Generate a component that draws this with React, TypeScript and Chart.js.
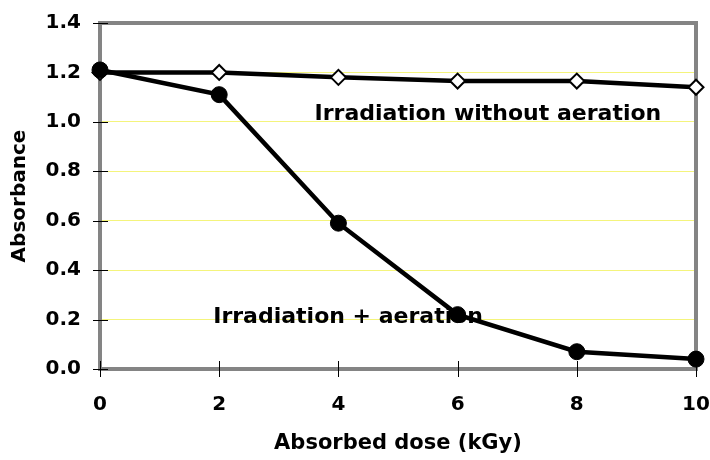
import React, { useEffect, useRef } from "react";
import { Chart, registerables } from "chart.js";

Chart.register(...registerables);

const doses = [0, 2, 4, 6, 8, 10];
const withoutAeration = [1.2, 1.2, 1.18, 1.165, 1.165, 1.14];
const withAeration = [1.21, 1.11, 0.59, 0.22, 0.07, 0.04];
const yTicks = [0, 0.2, 0.4, 0.6, 0.8, 1.0, 1.2, 1.4];
const xTicks = [0, 2, 4, 6, 8, 10];
const labelWithout = "Irradiation without aeration";
const labelWith = "Irradiation + aeration";
const xTitle = "Absorbed dose (kGy)";
const yTitle = "Absorbance";

const FONT = "'DejaVu Sans', sans-serif";

const framePlugin = {
  id: "frame",
  beforeDatasetsDraw(chart: any) {
    const { ctx, chartArea: a, scales } = chart;
    ctx.save();
    ctx.strokeStyle = "#848484";
    ctx.lineWidth = 4;
    ctx.strokeRect(a.left, a.top, a.right - a.left, a.bottom - a.top);
    ctx.strokeStyle = "#000";
    ctx.lineWidth = 1;
    ctx.beginPath();
    for (const v of yTicks) {
      const y = Math.round(scales.y.getPixelForValue(v)) + 0.5;
      ctx.moveTo(a.left - 7, y);
      ctx.lineTo(a.left + 8, y);
    }
    for (const v of xTicks) {
      const x = Math.round(scales.x.getPixelForValue(v)) + 0.5;
      ctx.moveTo(x, a.bottom - 8);
      ctx.lineTo(x, a.bottom + 8);
    }
    ctx.stroke();
    ctx.fillStyle = "#000";
    ctx.font = `bold 22px ${FONT}`;
    ctx.textBaseline = "alphabetic";
    ctx.textAlign = "left";
    ctx.fillText(labelWithout, scales.x.getPixelForValue(3.6), scales.y.getPixelForValue(1.0) - 2);
    ctx.fillText(labelWith, scales.x.getPixelForValue(1.9), scales.y.getPixelForValue(0.186));
    ctx.restore();
  },
};

export default function App() {
  const ref = useRef<HTMLCanvasElement | null>(null);
  useEffect(() => {
    document.body.style.margin = "0";
    const canvas = ref.current!;
    const chart = new Chart(canvas, {
      type: "line",
      data: {
        datasets: [
          {
            label: labelWithout,
            data: doses.map((d, i) => ({ x: d, y: withoutAeration[i] })),
            borderColor: "#000",
            borderWidth: 4.5,
            pointStyle: "rectRot",
            pointRadius: 7.5,
            pointBackgroundColor: "#fff",
            pointBorderColor: "#000",
            pointBorderWidth: 2,
            tension: 0,
            order: 2,
          },
          {
            label: labelWith,
            data: doses.map((d, i) => ({ x: d, y: withAeration[i] })),
            borderColor: "#000",
            borderWidth: 4.5,
            pointStyle: "circle",
            pointRadius: 8,
            pointBackgroundColor: "#000",
            pointBorderColor: "#000",
            pointBorderWidth: 1,
            tension: 0,
            order: 1,
          },
        ],
      },
      options: {
        animation: false,
        responsive: false,
        devicePixelRatio: 1,
        clip: false,
        layout: { padding: { top: 23, right: 14, left: 0, bottom: 0 } },
        plugins: { legend: { display: false }, tooltip: { enabled: false } },
        scales: {
          x: {
            type: "linear",
            min: 0,
            max: 10,
            afterFit: (s: any) => {
              s.height = 91;
              s.paddingLeft = 0;
              s.paddingRight = 0;
            },
            afterBuildTicks: (s: any) => { s.ticks = xTicks.map((v) => ({ value: v })); },
            grid: { display: false, drawTicks: false },
            border: { display: false },
            ticks: {
              color: "#000",
              font: { family: FONT, size: 20, weight: "bold" },
              padding: 24,
              maxRotation: 0,
            },
            title: {
              display: true,
              text: xTitle,
              color: "#000",
              font: { family: FONT, size: 21, weight: "bold" },
              padding: { top: 4, bottom: 4 },
            },
          },
          y: {
            type: "linear",
            min: 0,
            max: 1.4,
            afterFit: (s: any) => {
              s.width = 100;
              s.paddingTop = 0;
              s.paddingBottom = 0;
            },
            afterBuildTicks: (s: any) => { s.ticks = yTicks.map((v) => ({ value: v })); },
            grid: {
              drawTicks: false,
              lineWidth: 1,
              color: (c: any) => (c.tick && (c.tick.value === 0 || Math.abs(c.tick.value - 1.4) < 1e-6) ? "rgba(0,0,0,0)" : "#f4f47c"),
            },
            border: { display: false },
            ticks: {
              color: "#000",
              font: { family: FONT, size: 20, weight: "bold" },
              padding: 19,
              callback: (v: any) => Number(v).toFixed(1),
            },
            title: {
              display: true,
              text: yTitle,
              color: "#000",
              font: { family: FONT, size: 20, weight: "bold" },
              padding: { top: 8, bottom: 0 },
            },
          },
        },
      },
      plugins: [framePlugin],
    });
    return () => chart.destroy();
  }, []);
  return <canvas ref={ref} width={710} height={460} style={{ display: "block" }} />;
}
